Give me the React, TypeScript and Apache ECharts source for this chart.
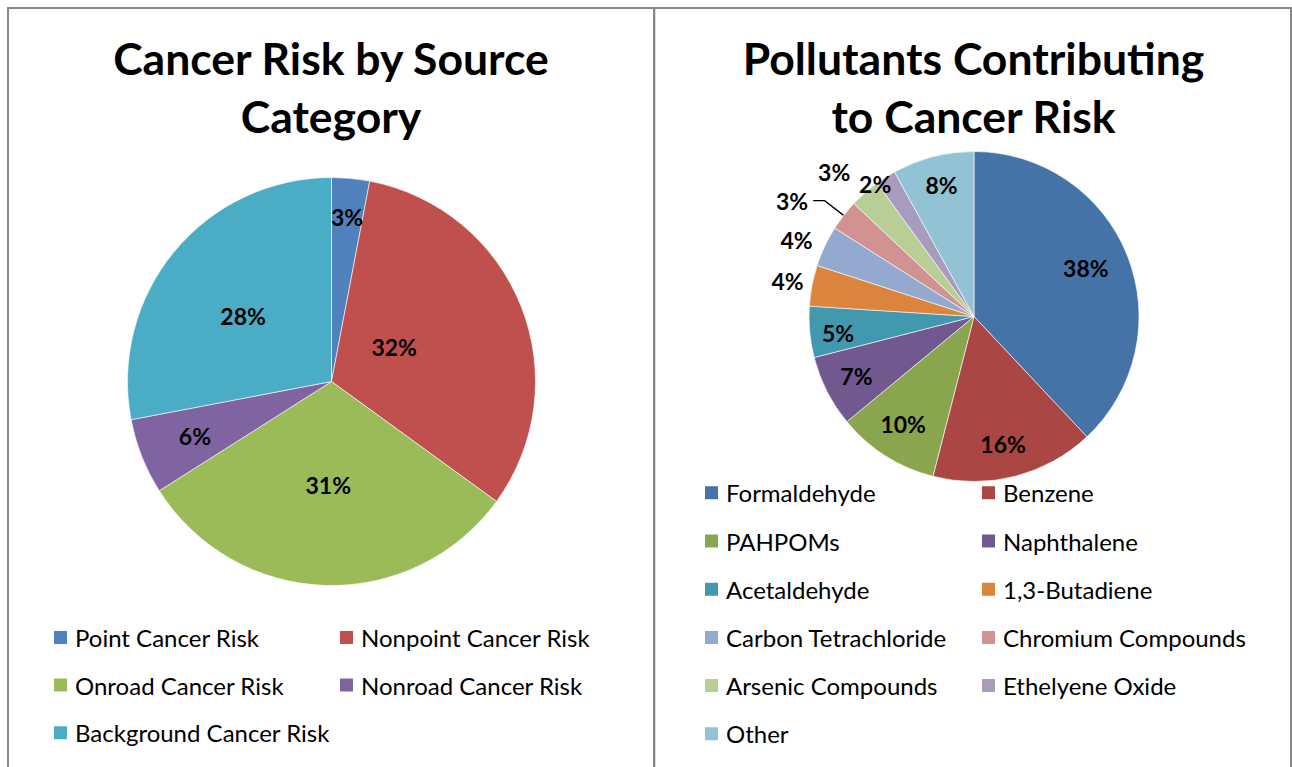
import React, { useEffect, useRef } from "react";
import * as echarts from "echarts";

// ---------- data ----------
const sourceCategories = [
  "Point Cancer Risk",
  "Nonpoint Cancer Risk",
  "Onroad Cancer Risk",
  "Nonroad Cancer Risk",
  "Background Cancer Risk",
];
const sourceValues = [3, 32, 31, 6, 28];

const pollutantCategories = [
  "Formaldehyde",
  "Benzene",
  "PAHPOMs",
  "Naphthalene",
  "Acetaldehyde",
  "1,3-Butadiene",
  "Carbon Tetrachloride",
  "Chromium Compounds",
  "Arsenic Compounds",
  "Ethelyene Oxide",
  "Other",
];
const pollutantValues = [38, 16, 10, 7, 5, 4, 4, 3, 3, 2, 8];

// ---------- styles ----------
const sourceColors = ["#4F81BD", "#C0504D", "#9BBB59", "#8064A2", "#4BACC6"];
const pollutantColors = [
  "#4572A7", "#AA4643", "#89A54E", "#71588F", "#4198AF", "#DB843D",
  "#93A9CF", "#D19392", "#B9CD96", "#A99BBD", "#92C3D4",
];

// label placement: fraction of the radius and angle nudge (degrees)
const sourceLabelR = [0.81, 0.35, 0.51, 0.72, 0.54];
const sourceLabelNudge = [0, -7, 0, 0, -3];
const pollutantLabelR = [0.74, 0.79, 0.78, 0.8, 0.83, 1.15, 1.17, null, 1.22, 1.0, 0.82];
const pollutantLabelNudge = [-2, 1.5, 1, 0, -1.5, 0, -2, 0, -2.6, -4.4, 0.5];

const FONT = "Lato, 'Open Sans', sans-serif";
const LEFT_C = [331.5, 381.5];
const LEFT_R = 204;
const RIGHT_C = [974, 316.5];
const RIGHT_R = 165;

function makeLabelLayout(
  values: number[],
  center: number[],
  radius: number,
  rf: (number | null)[],
  nudge: number[]
) {
  const total = values.reduce((a, b) => a + b, 0);
  const before: number[] = [];
  let acc = 0;
  values.forEach((v) => {
    before.push(acc);
    acc += v;
  });
  return (params: any) => {
    const i = params.dataIndex;
    const f = rf[i];
    if (f == null) return {};
    const mid = ((before[i] + values[i] / 2) / total) * 360 + nudge[i];
    const a = (mid * Math.PI) / 180;
    return {
      x: center[0] + f * radius * Math.sin(a),
      y: center[1] - f * radius * Math.cos(a),
      align: "center",
      verticalAlign: "middle",
    };
  };
}

const labelStyle = {
  show: true,
  position: "outside",
  fontFamily: FONT,
  fontWeight: "bold",
  fontSize: 23,
  color: "#000",
  formatter: (p: any) => `${Math.round(p.percent)}%`,
};

const legendBase = {
  orient: "vertical",
  icon: "rect",
  itemWidth: 15,
  itemHeight: 15,
  padding: 0,
  selectedMode: false,
  textStyle: {
    fontFamily: FONT,
    fontSize: 24,
    color: "#000",
    lineHeight: 24,
    padding: [0, 0, 0, 2],
  },
};

export default function App() {
  const ref = useRef<HTMLDivElement>(null);

  useEffect(() => {
    if (!ref.current) return;
    const chart = echarts.init(ref.current, undefined, { renderer: "svg" });

    const titleStyle = {
      fontFamily: FONT,
      fontWeight: "bold",
      fontSize: 44.5,
      lineHeight: 58,
      fill: "#000",
      align: "center",
      verticalAlign: "top",
    };

    const option: any = {
      animation: false,
      backgroundColor: "#fff",
      graphic: [
        {
          type: "rect",
          shape: { x: 8, y: 8, width: 646, height: 800 },
          style: { fill: "none", stroke: "#878787", lineWidth: 2 },
          silent: true,
        },
        {
          type: "rect",
          shape: { x: 654, y: 8, width: 637, height: 800 },
          style: { fill: "none", stroke: "#878787", lineWidth: 2 },
          silent: true,
        },
        {
          type: "line",
          shape: { x1: 655.5, y1: 9, x2: 655.5, y2: 767 },
          style: { stroke: "#dcdcdc", lineWidth: 1 },
          silent: true,
        },
        {
          type: "text",
          x: 331,
          y: 28,
          style: { ...titleStyle, text: "Cancer Risk by Source\nCategory" },
        },
        {
          type: "text",
          x: 973.5,
          y: 28,
          style: { ...titleStyle, text: "Pollutants Contributing\nto Cancer Risk" },
        },
      ],
      legend: [
        {
          ...legendBase,
          left: 52,
          top: 625.5,
          itemGap: 23.6,
          data: [sourceCategories[0], sourceCategories[2], sourceCategories[4]],
        },
        {
          ...legendBase,
          left: 338,
          top: 625.5,
          itemGap: 23.6,
          data: [sourceCategories[1], sourceCategories[3]],
        },
        {
          ...legendBase,
          left: 703,
          top: 480.8,
          itemGap: 24.2,
          data: [0, 2, 4, 6, 8, 10].map((i) => pollutantCategories[i]),
        },
        {
          ...legendBase,
          left: 980,
          top: 480.8,
          itemGap: 24.2,
          data: [1, 3, 5, 7, 9].map((i) => pollutantCategories[i]),
        },
      ],
      series: [
        {
          type: "pie",
          center: LEFT_C,
          radius: LEFT_R,
          startAngle: 90,
          clockwise: true,
          avoidLabelOverlap: false,
          silent: true,
          label: labelStyle,
          labelLine: { show: false },
          labelLayout: makeLabelLayout(sourceValues, LEFT_C, LEFT_R, sourceLabelR, sourceLabelNudge),
          itemStyle: { borderColor: "#fff", borderWidth: 0.6 },
          data: sourceCategories.map((name, i) => ({
            name,
            value: sourceValues[i],
            itemStyle: { color: sourceColors[i] },
          })),
        },
        {
          type: "pie",
          center: RIGHT_C,
          radius: RIGHT_R,
          startAngle: 90,
          clockwise: true,
          avoidLabelOverlap: false,
          silent: true,
          label: labelStyle,
          labelLine: { show: false },
          labelLayout: makeLabelLayout(
            pollutantValues,
            RIGHT_C,
            RIGHT_R,
            pollutantLabelR,
            pollutantLabelNudge
          ),
          itemStyle: { borderColor: "#fff", borderWidth: 0.6 },
          data: pollutantCategories.map((name, i) => {
            const item: any = {
              name,
              value: pollutantValues[i],
              itemStyle: { color: pollutantColors[i] },
            };
            if (pollutantLabelR[i] == null) {
              item.labelLine = {
                show: true,
                length: 24,
                length2: 11.5,
                smooth: false,
                lineStyle: { color: "#000", width: 1.3 },
              };
            }
            return item;
          }),
        },
      ],
    };

    chart.setOption(option);
    return () => chart.dispose();
  }, []);

  return (
    <div
      ref={ref}
      style={{ position: "absolute", left: 0, top: 0, width: 1292, height: 767 }}
    />
  );
}
